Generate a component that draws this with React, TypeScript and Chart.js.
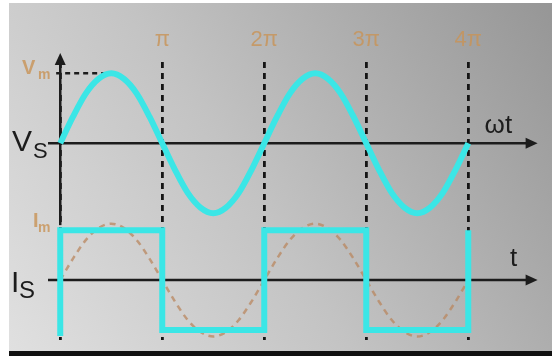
import { useEffect, useRef } from 'react';
import { Chart, registerables } from 'chart.js';

Chart.register(...registerables);

// ωt in units of π
const phase = [
  0, 0.125, 0.25, 0.375, 0.5, 0.625, 0.75, 0.875, 1, 1.125, 1.25, 1.375, 1.5, 1.625, 1.75, 1.875, 2,
  2.125, 2.25, 2.375, 2.5, 2.625, 2.75, 2.875, 3, 3.125, 3.25, 3.375, 3.5, 3.625, 3.75, 3.875, 4,
];
// supply voltage Vs (units of Vm)
const vsValues = [
  0, 0.38, 0.71, 0.92, 1, 0.92, 0.71, 0.38, 0, -0.38, -0.71, -0.92, -1, -0.92, -0.71, -0.38, 0,
  0.38, 0.71, 0.92, 1, 0.92, 0.71, 0.38, 0, -0.38, -0.71, -0.92, -1, -0.92, -0.71, -0.38, 0,
];
// fundamental of the supply current (dashed, units of Im)
const iFundValues = [
  0, 0.43, 0.8, 1.04, 1.13, 1.04, 0.8, 0.43, 0, -0.43, -0.8, -1.04, -1.13, -1.04, -0.8, -0.43, 0,
  0.43, 0.8, 1.04, 1.13, 1.04, 0.8, 0.43, 0, -0.43, -0.8, -1.04, -1.13, -1.04, -0.8, -0.43, 0,
];
// square supply current Is (units of Im)
const squareX = [0, 0, 1, 1, 2, 2, 3, 3, 4, 4];
const squareY = [-1.12, 1, 1, -1, -1, 1, 1, -1, -1, 1];
const tickLabels = ['', 'π', '2π', '3π', '4π'];

const CYAN = '#3be6e6';
const TAN = 'rgba(200,148,88,0.82)';
const INK = '#1c1c1c';
const FONT = '"Liberation Sans", Arial, sans-serif';

function arrowHead(ctx: CanvasRenderingContext2D, x: number, y: number, dir: 'right' | 'up') {
  ctx.beginPath();
  if (dir === 'right') {
    ctx.moveTo(x, y);
    ctx.lineTo(x - 12, y - 5.5);
    ctx.lineTo(x - 12, y + 5.5);
  } else {
    ctx.moveTo(x, y);
    ctx.lineTo(x - 5.5, y + 12);
    ctx.lineTo(x + 5.5, y + 12);
  }
  ctx.closePath();
  ctx.fill();
}

function subText(
  ctx: CanvasRenderingContext2D,
  main: string,
  sub: string,
  x: number,
  y: number,
  mainFont: string,
  subFont: string,
  subDx: number,
  subDy: number,
  color: string,
) {
  ctx.fillStyle = color;
  ctx.textBaseline = 'alphabetic';
  ctx.textAlign = 'left';
  ctx.font = `${mainFont} ${FONT}`;
  ctx.fillText(main, x, y);
  ctx.font = `${subFont} ${FONT}`;
  ctx.fillText(sub, x + subDx, y + subDy);
}

const decorPlugin = {
  id: 'decor',
  beforeDraw(chart: any) {
    const ctx = chart.ctx as CanvasRenderingContext2D;
    const W = chart.width;
    const H = chart.height;
    ctx.save();
    ctx.fillStyle = '#ffffff';
    ctx.fillRect(0, 0, W, H);
    const g = ctx.createLinearGradient(9, H - 4, W, 3);
    g.addColorStop(0, '#e0e0e0');
    g.addColorStop(0.45, '#c3c3c3');
    g.addColorStop(1, '#969696');
    ctx.fillStyle = g;
    ctx.fillRect(9, 3, W - 9, H - 7);
    ctx.fillStyle = '#111';
    ctx.fillRect(9, H - 5, W - 9, 5);
    ctx.restore();
  },
  beforeDatasetsDraw(chart: any) {
    const ctx = chart.ctx as CanvasRenderingContext2D;
    const x = chart.scales.x;
    const yV = chart.scales.yV;
    const yI = chart.scales.yI;
    ctx.save();
    ctx.strokeStyle = INK;
    ctx.fillStyle = INK;
    ctx.lineWidth = 2.5;
    // vertical axis
    const x0 = x.getPixelForValue(0);
    const top = yV.getPixelForValue(1.29);
    ctx.beginPath();
    ctx.moveTo(x0, top + 8);
    ctx.lineTo(x0, yI.getPixelForValue(1.1));
    ctx.stroke();
    arrowHead(ctx, x0, top, 'up');
    // horizontal axes
    const xs = x.getPixelForValue(-0.12);
    const xe = x.getPixelForValue(4.68);
    for (const y of [yV.getPixelForValue(0), yI.getPixelForValue(0)]) {
      ctx.beginPath();
      ctx.moveTo(xs, y);
      ctx.lineTo(xe - 8, y);
      ctx.stroke();
      arrowHead(ctx, xe, y, 'right');
    }
    // Vm dashed guide
    ctx.setLineDash([5, 4]);
    ctx.beginPath();
    ctx.moveTo(x.getPixelForValue(-0.04), yV.getPixelForValue(1));
    ctx.lineTo(x.getPixelForValue(0.5), yV.getPixelForValue(1));
    ctx.stroke();
    ctx.restore();
  },
  afterDraw(chart: any) {
    const ctx = chart.ctx as CanvasRenderingContext2D;
    const yV = chart.scales.yV;
    const yI = chart.scales.yI;
    const x = chart.scales.x;
    ctx.save();
    const vs0 = yV.getPixelForValue(0);
    const is0 = yI.getPixelForValue(0);
    const vm = yV.getPixelForValue(1);
    const im = yI.getPixelForValue(1);
    subText(ctx, 'V', 'S', 12, vs0 + 8, '30px', '22px', 21, 7, INK);
    subText(ctx, 'I', 'S', 11, is0 + 12, '30px', '24px', 8, 6, INK);
    subText(ctx, 'V', 'm', 22, vm + 1, 'bold 20px', 'bold 14px', 16, 5, TAN);
    subText(ctx, 'I', 'm', 33, im - 3, 'bold 20px', 'bold 14px', 5, 5, TAN);
    ctx.fillStyle = INK;
    ctx.font = `26px ${FONT}`;
    ctx.textAlign = 'left';
    ctx.textBaseline = 'alphabetic';
    ctx.fillText('ωt', x.getPixelForValue(4.16), vs0 - 10);
    ctx.fillText('t', x.getPixelForValue(4.41), is0 - 14);
    ctx.restore();
  },
};

export default function App() {
  const ref = useRef<HTMLCanvasElement | null>(null);

  useEffect(() => {
    document.body.style.margin = '0';
    const canvas = ref.current;
    if (!canvas) return;
    const chart = new Chart(canvas, {
      type: 'line',
      data: {
        datasets: [
          {
            label: 'Is',
            data: squareX.map((v, i) => ({ x: v, y: squareY[i] })),
            yAxisID: 'yI',
            borderColor: CYAN,
            borderWidth: 6,
            borderJoinStyle: 'miter',
            pointRadius: 0,
            tension: 0,
            order: 1,
          },
          {
            label: 'Vs',
            data: phase.map((v, i) => ({ x: v, y: vsValues[i] })),
            yAxisID: 'yV',
            borderColor: CYAN,
            borderWidth: 6,
            pointRadius: 0,
            cubicInterpolationMode: 'monotone',
            order: 1,
          },
          {
            label: 'Is1',
            data: phase.map((v, i) => ({ x: v, y: iFundValues[i] })),
            yAxisID: 'yI',
            borderColor: 'rgba(185,135,95,0.75)',
            borderWidth: 2.5,
            borderDash: [6, 5],
            pointRadius: 0,
            cubicInterpolationMode: 'monotone',
            order: 3,
          },
        ],
      },
      options: {
        responsive: false,
        animation: false,
        devicePixelRatio: 1,
        layout: { padding: { left: 48, right: 10.3, top: 18, bottom: 16 } },
        plugins: { legend: { display: false }, tooltip: { enabled: false } },
        events: [],
        scales: {
          x: {
            type: 'linear',
            position: 'top',
            min: -0.12,
            max: 4.72,
            grid: {
              color: '#151515',
              lineWidth: 2.8,
              drawTicks: false,
            },
            border: { display: false, dash: [6, 5] },
            ticks: {
              stepSize: 1,
              includeBounds: false,
              autoSkip: false,
              maxRotation: 0,
              padding: 9,
              color: TAN,
              font: { size: 22, family: FONT },
              callback: (v: any) => tickLabels[Number(v)] ?? '',
            },
          },
          yI: {
            type: 'linear',
            position: 'left',
            stack: 'plots',
            stackWeight: 120,
            min: -1.2,
            max: 1.2,
            grid: { display: false, drawTicks: false },
            border: { display: false },
            ticks: { display: false },
          },
          yV: {
            type: 'linear',
            position: 'left',
            stack: 'plots',
            stackWeight: 158,
            min: -1.1,
            max: 1.157,
            grid: { display: false, drawTicks: false },
            border: { display: false },
            ticks: { display: false },
          },
        },
      },
      plugins: [decorPlugin],
    } as any);
    return () => chart.destroy();
  }, []);

  return (
    <canvas
      ref={ref}
      width={552}
      height={356}
      style={{ display: 'block', width: 552, height: 356 }}
    />
  );
}
